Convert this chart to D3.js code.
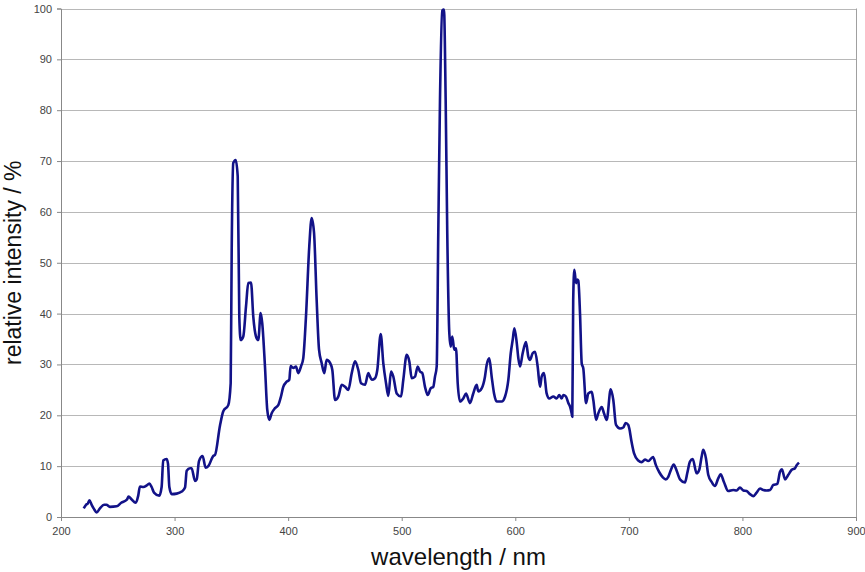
<!DOCTYPE html>
<html>
<head>
<meta charset="utf-8">
<script src="https://cdn.jsdelivr.net/npm/d3@7"></script>
<style>
  body { margin: 0; background: #fff; }
  svg { display: block; font-family: "Liberation Sans", Arial, sans-serif; }
  .tick text { fill: #444; font-size: 11px; }
  .axisTitle { fill: #111; font-size: 24px; }
</style>
</head>
<body>
<svg id="chart" width="865" height="572"></svg>
<script>
// spectrum
const wavelength = [
  220, 222, 223.5, 225, 227, 229, 231.4, 234.3, 237.9, 240, 243, 249, 253, 258, 259.5, 262, 265.8, 268, 269.5, 272.5,
  275.4, 277.8, 279.8, 281.9, 286.5, 288.6, 290, 293, 294.2, 295.4, 297.5, 301.9, 306.3, 309.2, 310.7, 313.6, 315, 318, 319.5, 321.5,
  324.7, 327.3, 329.7, 334.1, 335.6, 340, 342.9, 347.3, 349.4, 350.3, 351.7, 353.8, 355.6, 357, 358.2, 360.5, 362.9, 364.9, 367.3, 369.3,
  371.7, 373.7, 375.8, 377.2, 379.6, 381.6, 383.4, 385.5, 388.4, 391.3, 393.7, 395.7, 398.7, 401, 402.2, 404.5, 406.9, 408.9, 411.3, 413.3,
  415.7, 418.6, 420.7, 422.8, 425.1, 427.2, 429.5, 431.8, 433.9, 436.9, 438.9, 441.3, 444.2, 447.2, 450.1, 453, 456, 458.9, 461.8, 464.2,
  467.7, 470.6, 472.1, 473.6, 476.5, 478.5, 481.5, 483.8, 486.2, 488.2, 490.6, 492.6, 495.6, 499.4, 501.4, 504.4, 506.7, 508.8, 511.7, 514.1,
  516.1, 518.1, 520.5, 522.9, 525.5, 527.8, 529.3, 530.8, 532.2, 533.7, 535.7, 537.2, 538.7, 540.1, 541.9, 543.1, 544.5, 546.3, 547.8, 549.3,
  551.3, 554.2, 556.6, 560.1, 563, 566, 567.4, 570.4, 573.3, 574.8, 577.1, 579.2, 581.3, 583.6, 588, 591, 593.9, 596, 597.7, 599.2,
  601.3, 602.7, 604.2, 606.5, 609.4, 611.5, 613, 615.3, 617.4, 619.7, 621.8, 623.2, 625.3, 627.6, 629.9, 633.5, 636.4, 638.8, 640.8, 642.3,
  644.6, 646.7, 648.2, 649.6, 650.2, 651, 652, 653.5, 654.6, 655.5, 657, 658.5, 659.9, 662.3, 664.3, 667.3, 668.7, 671.1, 673.1, 676.1,
  678.1, 680.5, 684, 686.3, 688.7, 692.2, 695.1, 697.2, 699.5, 700.4, 702.2, 704.6, 708.3, 711.3, 714.2, 717.1, 721.3, 723.8, 726.8, 729.9,
  732.5, 734.7, 737.1, 739.5, 742.1, 745, 749.4, 751.4, 753.8, 756.2, 759.7, 762, 764.1, 765.5, 767.9, 769.9, 772.9, 775.8, 778.7, 780.8,
  783.7, 787.5, 791.9, 794.9, 797.8, 800.8, 803.7, 806.7, 809.6, 812.5, 815.5, 818.4, 821.3, 824.3, 827.2, 830.7, 833.1, 834.8, 837.5, 840.4,
  843.4, 846.3, 847.8, 849.8
]
const intensity = [
  1.7, 2.4, 2.6, 3.3, 2.4, 1.6, 0.9, 1.7, 2.4, 2.4, 2.0, 2.1, 2.8, 3.4, 4.0, 3.5, 2.8, 4.2, 6.0, 5.9,
  6.2, 6.6, 5.9, 4.8, 4.2, 5.9, 11.1, 11.4, 10.5, 5.9, 4.5, 4.6, 5.0, 5.8, 9.1, 9.6, 9.6, 7.1, 7.4, 11.0,
  12.0, 9.7, 10.0, 12.0, 12.2, 18.0, 20.8, 22.0, 26.3, 52.5, 69.6, 70.2, 67, 39.4, 34.8, 35.5, 41.4, 46.0, 46.1, 39.4,
  35.5, 34.8, 40.1, 38.1, 29.6, 21.1, 19.1, 20.4, 21.4, 22.0, 23.7, 25.6, 26.6, 27.0, 29.7, 29.3, 29.6, 28.3, 29.6, 31.2,
  39.4, 53.2, 58.8, 55.9, 42.7, 32.9, 30.3, 28.3, 30.9, 30.3, 28.9, 23.0, 23.7, 26.0, 25.6, 25.0, 28.3, 30.6, 28.9, 26.3,
  26.0, 28.3, 27.6, 27.0, 27.3, 28.9, 36.0, 30.2, 26.3, 23.8, 28.6, 27.6, 24.3, 23.7, 27.0, 31.9, 30.6, 27.3, 27.6, 29.6,
  28.6, 28.3, 25.6, 24.0, 25.3, 25.6, 27.6, 29.6, 55.9, 82, 99.6, 99.8, 82, 55.9, 36.2, 33.5, 35.5, 32.9, 33.2, 26.3,
  22.7, 23.3, 24.3, 22.4, 24.3, 26.0, 24.7, 25.3, 27.6, 29.9, 31.2, 27.6, 24.3, 22.7, 22.7, 23.7, 27.0, 32.2, 34.8, 37.1,
  34.2, 31.2, 29.6, 32.2, 34.4, 31.5, 30.9, 32.2, 32.5, 29.6, 25.6, 27.6, 28.3, 24.3, 23.3, 23.7, 23.3, 24.0, 23.3, 24.0,
  23.7, 22.4, 21.7, 20.4, 19.7, 42.7, 48.6, 46.0, 46.7, 46.5, 40.0, 30.2, 29.2, 22.4, 24.3, 24.6, 23.0, 19.1, 20.4, 21.6,
  20.4, 19.1, 25.1, 23.0, 18.1, 17.4, 17.6, 18.5, 18.1, 17.4, 15.0, 12.5, 11.1, 10.8, 11.3, 11.0, 11.8, 10.2, 8.8, 7.8,
  7.4, 7.9, 9.3, 10.3, 9.1, 7.4, 6.8, 8.6, 10.9, 11.4, 8.6, 9.3, 11.9, 13.2, 11.5, 8.3, 6.9, 6.1, 7.6, 8.4,
  6.9, 5.1, 5.3, 5.2, 5.8, 5.2, 5.1, 4.5, 4.1, 4.8, 5.6, 5.3, 5.2, 5.3, 6.3, 6.5, 8.9, 9.4, 7.4, 8.3,
  9.3, 9.6, 10.2, 10.7
]
const xTicks = [200, 300, 400, 500, 600, 700, 800, 900]
const yTicks = [0, 10, 20, 30, 40, 50, 60, 70, 80, 90, 100]
const xLabel = "wavelength / nm"
const yLabel = "relative intensity / %"

let svg = d3.select("#chart")
let plotLeft = 61, plotRight = 856, plotTop = 8.5, plotBottom = 517

let xScale = d3.scaleLinear().domain([200, 900]).range([plotLeft, plotRight])
let yScale = d3.scaleLinear().domain([0, 100]).range([plotBottom, plotTop])

// horizontal grid
svg.append("g").selectAll("line")
    .data(yTicks.filter(d => d > 0))
    .enter().append("line")
    .attr("x1", plotLeft).attr("x2", plotRight)
    .attr("y1", d => Math.round(yScale(d)) + 0.5)
    .attr("y2", d => Math.round(yScale(d)) + 0.5)
    .attr("stroke", "#b8b8b8")

// right border of plot area
svg.append("line")
    .attr("x1", plotRight + 0.5).attr("x2", plotRight + 0.5)
    .attr("y1", plotTop).attr("y2", plotBottom)
    .attr("stroke", "#a0a0a0")

// axes
let x_axis = d3.axisBottom(xScale).tickValues(xTicks).tickSize(4).tickPadding(6).tickFormat(d3.format("d"))
let y_axis = d3.axisLeft(yScale).tickValues(yTicks).tickSize(4).tickPadding(5).tickFormat(d3.format("d"))

svg.append("g").attr("transform", `translate(0,${plotBottom})`).call(x_axis)
svg.append("g").attr("transform", `translate(${plotLeft},0)`).call(y_axis)
svg.selectAll(".domain").attr("stroke", "#888")
svg.selectAll(".tick line").attr("stroke", "#888")

// spectrum
let line = d3.line()
    .x((d, i) => xScale(wavelength[i]))
    .y((d, i) => yScale(intensity[i]))
    .curve(d3.curveMonotoneX)

svg.append("path")
    .datum(intensity)
    .attr("d", line)
    .attr("fill", "none")
    .attr("stroke", "#121288")
    .attr("stroke-width", 2.6)
    .attr("stroke-linejoin", "round")

// titles
svg.append("text")
    .attr("class", "axisTitle")
    .attr("x", (plotLeft + plotRight) / 2)
    .attr("y", 565)
    .attr("text-anchor", "middle")
    .text(xLabel)

svg.append("text")
    .attr("class", "axisTitle")
    .style("font-size", "23px")
    .attr("transform", `translate(21,${(plotTop + plotBottom) / 2}) rotate(-90)`)
    .attr("text-anchor", "middle")
    .text(yLabel)
</script>
</body>
</html>
